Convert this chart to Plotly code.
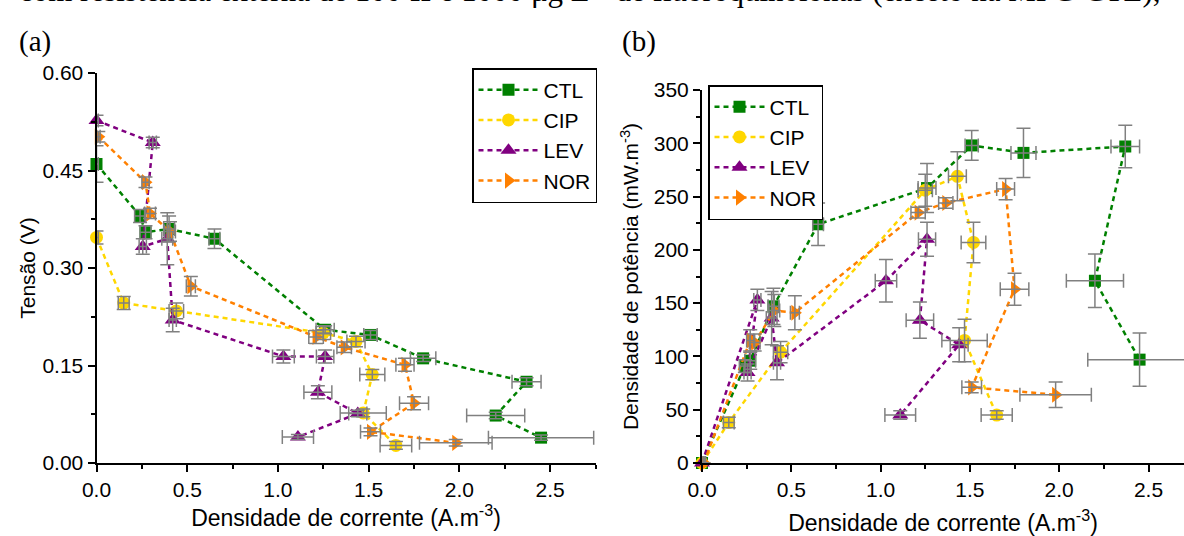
import plotly.graph_objects as go

# ---------------- data ----------------
series = ["CTL", "CIP", "LEV", "NOR"]
colors = {"CTL": "#008000", "CIP": "#FFD700", "LEV": "#800080", "NOR": "#FF8000"}
symbols = {"CTL": "square", "CIP": "circle", "LEV": "triangle-up", "NOR": "triangle-right"}

# current density (A.m-3)
ctl_i = [0.00, 0.24, 0.27, 0.40, 0.65, 1.26, 1.51, 1.80, 2.37, 2.20, 2.45]
cip_i = [0.00, 0.15, 0.44, 1.25, 1.43, 1.52, 1.47, 1.65]
lev_i = [0.00, 0.31, 0.255, 0.39, 0.42, 1.03, 1.26, 1.22, 1.44, 1.11]
nor_i = [0.01, 0.27, 0.295, 0.405, 0.52, 1.21, 1.365, 1.70, 1.75, 1.51, 1.98]

# voltage (V)
ctl_v = [0.460, 0.380, 0.355, 0.360, 0.345, 0.205, 0.197, 0.161, 0.125, 0.073, 0.039]
cip_v = [0.347, 0.246, 0.234, 0.200, 0.187, 0.136, 0.077, 0.027]
lev_v = [0.527, 0.493, 0.333, 0.345, 0.220, 0.164, 0.164, 0.109, 0.076, 0.040]
nor_v = [0.502, 0.432, 0.384, 0.356, 0.272, 0.194, 0.178, 0.151, 0.092, 0.048, 0.031]

# power density (mW.m-3)
ctl_p = [0, 91, 96, 147, 224, 258, 298, 291, 297, 171, 97]
cip_p = [0, 38, 104, 256, 269, 207, 115, 45]
lev_p = [0, 153, 85, 136, 94, 171, 210, 134, 111, 45]
nor_p = [0, 115, 113, 143, 141, 235, 244, 257, 163, 71, 64]

# error bars (panel a)
ctl_ex = [0.01, 0.03, 0.03, 0.03, 0.03, 0.05, 0.037, 0.07, 0.08, 0.16, 0.29]
ctl_ev = [0.028, 0.010, 0.010, 0.020, 0.015, 0.006, 0.007, 0.005, 0.006, 0.005, 0.004]
cip_ex = [0.01, 0.03, 0.04, 0.04, 0.05, 0.069, 0.127, 0.087]
cip_ev = [0.010, 0.010, 0.012, 0.010, 0.008, 0.008, 0.006, 0.006]
lev_ex = [0.01, 0.02, 0.02, 0.03, 0.02, 0.06, 0.048, 0.077, 0.05, 0.086]
lev_ev = [0.008, 0.008, 0.012, 0.040, 0.018, 0.010, 0.010, 0.010, 0.005, 0.004]
nor_ex = [0.01, 0.02, 0.03, 0.03, 0.025, 0.04, 0.04, 0.05, 0.08, 0.055, 0.20]
nor_ev = [0.008, 0.008, 0.008, 0.015, 0.015, 0.010, 0.008, 0.010, 0.010, 0.006, 0.005]

# error bars (panel b)
ctl_ep = [0, 6, 8, 17, 20, 23, 14, 23, 20, 25, 25]
cip_ep = [0, 5, 10, 15, 23, 19, 20, 4]
lev_ep = [0, 10, 8, 25, 16, 20, 16, 17, 16, 4]
nor_ep = [0, 10, 8, 15, 16, 5, 5, 10, 15, 5, 12]

data = {
    "CTL": (ctl_i, ctl_v, ctl_p, ctl_ex, ctl_ev, ctl_ep),
    "CIP": (cip_i, cip_v, cip_p, cip_ex, cip_ev, cip_ep),
    "LEV": (lev_i, lev_v, lev_p, lev_ex, lev_ev, lev_ep),
    "NOR": (nor_i, nor_v, nor_p, nor_ex, nor_ev, nor_ep),
}

x_ticks = [0.0, 0.5, 1.0, 1.5, 2.0, 2.5]
ya_ticks = [0.00, 0.15, 0.30, 0.45, 0.60]
yb_ticks = [0, 50, 100, 150, 200, 250, 300, 350]

# ---------------- figure ----------------
W, H = 1184, 536
fig = go.Figure()
GREY = "#808080"
msize = {"CTL": 12, "CIP": 13, "LEV": 14, "NOR": 14}

for panel, (xa, ya, leg) in enumerate([("x", "y", "legend"), ("x2", "y2", "legend2")]):
    for s in series:
        i, v, p, ex, ev, ep = data[s]
        yv = v if panel == 0 else p
        fig.add_trace(go.Scatter(
            x=i, y=yv, xaxis=xa, yaxis=ya, name=s, legend=leg,
            mode="lines+markers",
            line=dict(color=colors[s], width=2.5, dash="5px,4px"),
            marker=dict(symbol=symbols[s], size=msize[s], color=colors[s]),
            cliponaxis=False,
        ))
    for s in series:
        i, v, p, ex, ev, ep = data[s]
        yv = v if panel == 0 else p
        ee = ev if panel == 0 else ep
        fig.add_trace(go.Scatter(
            x=i, y=yv, xaxis=xa, yaxis=ya, showlegend=False,
            mode="markers", marker=dict(size=1, color="rgba(0,0,0,0)"),
            error_x=dict(type="data", array=ex, color=GREY, thickness=1.5, width=7),
            error_y=dict(type="data", array=ee, color=GREY, thickness=1.5, width=7),
            cliponaxis=False, hoverinfo="skip",
        ))

font = "Liberation Sans, Arial, sans-serif"
axis_common = dict(
    showgrid=False, zeroline=False, showline=True, linecolor="black", linewidth=2,
    ticks="outside", ticklen=7, tickwidth=2, tickcolor="black", automargin=False,
    tickfont=dict(family=font, size=21, color="black"),
    minor=dict(ticks="outside", ticklen=4, tickwidth=2, tickcolor="black"),
)

y_bot = 1 - 463 / H
fig.update_layout(
    width=W, height=H, margin=dict(l=0, r=0, t=0, b=0, autoexpand=False),
    paper_bgcolor="white", plot_bgcolor="white",
    font=dict(family=font, color="black"),
    xaxis=dict(domain=[96.5 / W, 595.5 / W], range=[0, 2.75], anchor="y",
               tickvals=x_ticks, ticktext=[f"{t:.1f}" for t in x_ticks],
               minor_tickvals=[0.25, 0.75, 1.25, 1.75, 2.25, 2.75],
               title=dict(text="Densidade de corrente (A.m<sup>-3</sup>)", standoff=8,
                          font=dict(family=font, size=23)),
               **axis_common),
    yaxis=dict(domain=[y_bot, 1 - 73 / H], range=[0, 0.60], anchor="x",
               tickvals=ya_ticks, ticktext=[f"{t:.2f}" for t in ya_ticks],
               minor_tickvals=[0.075, 0.225, 0.375, 0.525],
               title=dict(text="Tensão (V)", standoff=1, font=dict(family=font, size=21)),
               **axis_common),
    xaxis2=dict(domain=[702 / W, 1.0], range=[0, (W - 702) / 178.6], anchor="y2",
                tickvals=x_ticks, ticktext=[f"{t:.1f}" for t in x_ticks],
                minor_tickvals=[0.25, 0.75, 1.25, 1.75, 2.25],
                title=dict(text="Densidade de corrente (A.m<sup>-3</sup>)", standoff=15,
                           font=dict(family=font, size=23)),
                **axis_common),
    yaxis2=dict(domain=[y_bot, 1 - 90 / H], range=[0, 350], anchor="x2",
                tickvals=yb_ticks, ticktext=[str(t) for t in yb_ticks],
                minor_tickvals=[25, 75, 125, 175, 225, 275, 325],
                title=dict(text="Densidade de potência (mW.m<sup>-3</sup>)", standoff=9,
                           font=dict(family=font, size=21)),
                **axis_common),
    legend=dict(x=597 / W, xanchor="right", y=1 - 68 / H, yanchor="top",
                bordercolor="black", borderwidth=1.5, bgcolor="white", itemwidth=60,
                font=dict(family=font, size=21), tracegroupgap=0),
    legend2=dict(x=708 / W, xanchor="left", y=1 - 85 / H, yanchor="top",
                 bordercolor="black", borderwidth=1.5, bgcolor="white", itemwidth=50,
                 font=dict(family=font, size=21), tracegroupgap=0),
    showlegend=True,
)

serif = "Liberation Serif, Times New Roman, serif"
fig.add_annotation(text="(a)", xref="paper", yref="paper", x=17 / W, y=1 - 41 / H,
                   xanchor="left", yanchor="middle", showarrow=False,
                   font=dict(family=serif, size=29, color="black"))
fig.add_annotation(text="(b)", xref="paper", yref="paper", x=620 / W, y=1 - 41 / H,
                   xanchor="left", yanchor="middle", showarrow=False,
                   font=dict(family=serif, size=29, color="black"))
fig.add_annotation(text="com resistência externa de 100 Ω e 1000 μg L<sup>-1</sup> de fluoroquinolonas (exceto na MFC-CTL),",
                   xref="paper", yref="paper", x=17 / W, y=1 - 10 / H,
                   xanchor="left", yanchor="bottom", showarrow=False,
                   font=dict(family=serif, size=31, color="black"))

fig.write_html("out.html")
